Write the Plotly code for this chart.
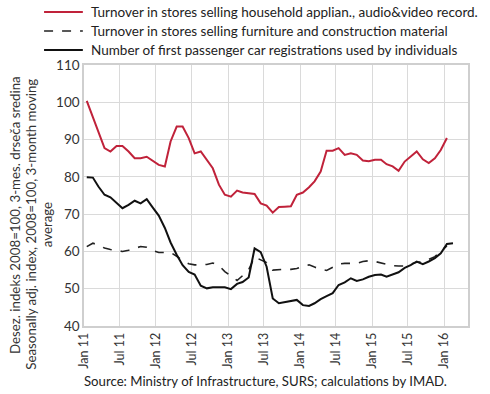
import pandas as pd
import plotly.graph_objects as go

months = pd.date_range("2011-01-01", periods=62, freq="MS")
x_mid = months + pd.Timedelta(days=14)

household = [100.4, 96.0, 92.6, 87.7, 86.8, 88.3, 88.3, 86.8, 85.0, 85.0, 85.4, 84.4,
             83.2, 82.8, 89.5, 93.5, 93.5, 90.4, 86.3, 86.8, 84.6, 82.3, 77.9, 75.2,
             74.7, 76.3, 75.8, 75.6, 75.4, 72.9, 72.3, 70.4, 71.9, 72.0, 72.1, 75.2,
             75.8, 77.2, 78.8, 81.4, 87.0, 87.0, 87.7, 85.9, 86.3, 85.9, 84.4, 84.2,
             84.6, 84.6, 83.4, 82.8, 81.6, 84.1, 85.4, 86.8, 84.7, 83.7, 85.0, 87.2,
             90.4]
furniture = [61.3, 62.2, 61.7, 60.9, 60.5, 60.3, 60.0, 60.3, 60.9, 61.3, 61.1, 60.3,
             59.7, 59.7, 59.7, 58.7, 57.5, 56.7, 56.4, 56.4, 56.5, 56.9, 56.2, 54.6,
             53.3, 52.2, 53.5, 55.1, 58.5, 57.7, 57.0, 55.0, 55.2, 55.2, 55.2, 55.4,
             56.0, 56.4, 55.8, 55.2, 54.9, 55.7, 56.6, 56.8, 56.8, 56.8, 57.3, 57.5,
             57.3, 56.9, 56.4, 56.2, 56.1, 56.1, 56.6, 57.1, 57.2, 57.8, 58.6, 60.0,
             61.5]
cars = [79.9, 79.8, 77.4, 75.2, 74.5, 73.1, 71.6, 72.5, 73.6, 72.9, 74.0, 71.8,
        69.6, 66.3, 62.4, 59.1, 56.3, 54.5, 53.8, 50.8, 50.1, 50.4, 50.4, 50.4,
        49.9, 51.3, 51.8, 53.0, 60.8, 59.8, 55.9, 47.4, 46.1, 46.4, 46.7, 47.0,
        45.6, 45.4, 46.1, 47.2, 48.0, 48.8, 51.0, 51.7, 52.8, 52.1, 52.5, 53.2,
        53.7, 53.8, 53.2, 53.8, 54.4, 55.6, 56.3, 57.3, 56.6, 57.3, 58.2, 59.5,
        62.0, 62.2]

names = ["Turnover in stores selling household applian., audio&video record.",
         "Turnover in stores selling furniture and construction material",
         "Number of first passenger car registrations used by individuals"]
y_title_lines = ["Desez. indeks 2008=100, 3-mes. drseča sredina",
                 "Seasonally adj. index, 2008=100, 3-month moving",
                 "average"]
source = "Source: Ministry of Infrastructure, SURS; calculations by IMAD."
colors = ["#c0223a", "#222222", "#111111"]
widths = [2, 1.6, 2]
dashes = ["solid", "dash", "solid"]

FONT = "Lato"
fig = go.Figure()
for yv, nm, c, w, d in zip([household, furniture, cars], names, colors, widths, dashes):
    fig.add_trace(go.Scatter(x=x_mid[:len(yv)], y=yv, mode="lines", name=nm,
                             line=dict(color=c, width=w, dash=d)))

fig.update_layout(
    width=490, height=394,
    margin=dict(l=84, r=22, t=65, b=68, autoexpand=False),
    paper_bgcolor="white", plot_bgcolor="white",
    font=dict(family=FONT, size=13, color="#222222"),
    showlegend=False,
    xaxis=dict(type="date", range=["2011-01-01", "2016-05-01"], automargin=False,
               tick0="2011-01-01", dtick="M6", tickformat="%b %y",
               tickangle=-90, tickfont=dict(size=12.5, color="#333333"),
               showgrid=True, gridcolor="#dadada", gridwidth=1,
               showline=True, linecolor="#cfcfcf", linewidth=1.5, mirror=True,
               ticks="", zeroline=False),
    yaxis=dict(range=[40, 110], dtick=10, automargin=False,
               tickfont=dict(size=13.5, color="#333333"),
               showgrid=True, gridcolor="#dadada", gridwidth=1,
               showline=True, linecolor="#cfcfcf", linewidth=1.5, mirror=True,
               ticks="", zeroline=False),
)

# y-axis title, three rotated lines
for txt, xp, yp in zip(y_title_lines, [-0.1797, -0.1367, -0.0964], [0.425, 0.39, 0.39]):
    fig.add_annotation(text=txt, xref="paper", yref="paper", x=xp, y=yp,
                       xanchor="center", yanchor="middle", textangle=-90,
                       showarrow=False, font=dict(family=FONT, size=13.3, color="#333333"))

# manual legend (key lines + labels) above the plot
leg_y = [1.203, 1.130, 1.057]
for ly, nm, c, w, d in zip(leg_y, names, colors, widths, dashes):
    fig.add_shape(type="line", xref="paper", yref="paper", x0=-0.104, x1=-0.003,
                  y0=ly, y1=ly, line=dict(color=c, width=w, dash=d))
    fig.add_annotation(text=nm, xref="paper", yref="paper", x=0.013, y=ly,
                       xanchor="left", yanchor="middle", showarrow=False,
                       font=dict(family=FONT, size=13.5, color="#222222"))

fig.add_annotation(text=source, xref="paper", yref="paper", x=0.473, y=-0.211,
                   xanchor="center", yanchor="middle", showarrow=False,
                   font=dict(family=FONT, size=13.2, color="#222222"))
fig.write_html("out.html", config={"displayModeBar": False},
               post_script="document.body.style.margin='0';")
